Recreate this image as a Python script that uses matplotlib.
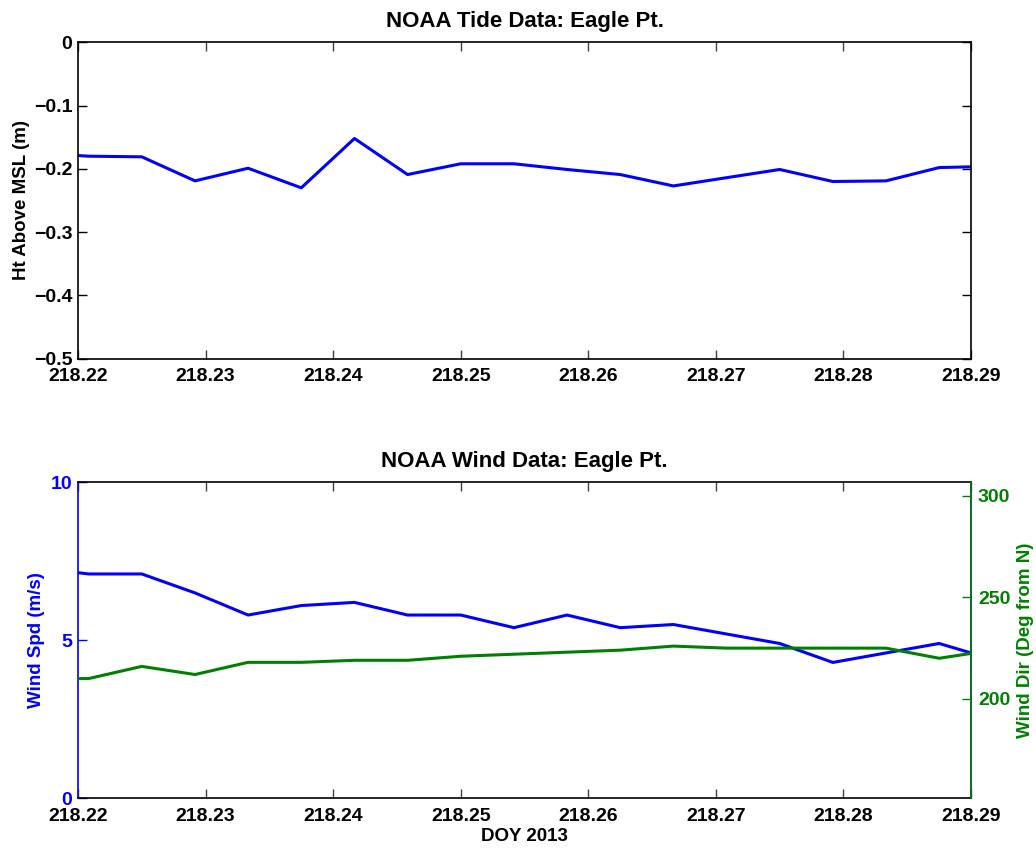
import matplotlib
matplotlib.use("Agg")
import matplotlib.pyplot as plt

plt.rcParams["font.family"] = ["Liberation Sans", "DejaVu Sans"]
plt.rcParams["font.weight"] = "bold"
plt.rcParams["axes.titleweight"] = "bold"
plt.rcParams["axes.labelweight"] = "bold"

# 6-minute NOAA samples, day-of-year 2013
doy = [218.21667, 218.22083, 218.22500, 218.22917, 218.23333, 218.23750,
       218.24167, 218.24583, 218.25000, 218.25417, 218.25833, 218.26250,
       218.26667, 218.27083, 218.27500, 218.27917, 218.28333, 218.28750,
       218.29167]
tide_ht = [-0.175, -0.180, -0.181, -0.219, -0.199, -0.230, -0.152, -0.209,
           -0.192, -0.192, -0.201, -0.209, -0.227, -0.214, -0.201, -0.220,
           -0.219, -0.198, -0.196]
wind_spd = [7.3, 7.1, 7.1, 6.5, 5.8, 6.1, 6.2, 5.8, 5.8, 5.4, 5.8, 5.4,
            5.5, 5.2, 4.9, 4.3, 4.6, 4.9, 4.4]
wind_dir = [210, 210, 216, 212, 218, 218, 219, 219, 221, 222, 223, 224,
            226, 225, 225, 225, 225, 220, 224]

xticks = [218.22, 218.23, 218.24, 218.25, 218.26, 218.27, 218.28, 218.29]
xlim = (218.22, 218.29)

BLUE = (0, 0, 1)
GREEN = (0, 0.5, 0)
FS = 14

fig = plt.figure(figsize=(10.36, 8.49), dpi=100)
ax_t = fig.add_axes([0.0753, 0.5775, 0.862, 0.3727])
ax_w = fig.add_axes([0.0753, 0.0597, 0.862, 0.3722])


def style_x(ax):
    ax.set_xlim(*xlim)
    ax.set_xticks(xticks)
    ax.set_xticklabels([f"{t:.2f}" for t in xticks])
    ax.tick_params(axis="x", direction="in", length=6.5, width=1,
                   top=True, bottom=True, labelsize=FS, pad=7,
                   color="#404040")


# tide panel
ax_t.plot(doy, tide_ht, color=BLUE, lw=2.2)
style_x(ax_t)
ax_t.set_ylim(-0.5, 0)
ax_t.set_yticks([-0.5, -0.4, -0.3, -0.2, -0.1, 0])
ax_t.set_yticklabels(["\u22120.5", "\u22120.4", "\u22120.3", "\u22120.2",
                      "\u22120.1", "0"])
ax_t.tick_params(axis="y", direction="in", length=6.5, width=1,
                 left=True, right=True, labelsize=FS, pad=4)
ax_t.set_ylabel("Ht Above MSL (m)", fontsize=13.5, labelpad=3)
ax_t.set_title("NOAA Tide Data: Eagle Pt.", fontsize=16, pad=11)
for sp in ax_t.spines.values():
    sp.set_linewidth(1.2)

# wind panel: speed on the left, direction on the right
ax_w.plot(doy, wind_spd, color=BLUE, lw=2.2)
style_x(ax_w)
ax_w.set_ylim(0, 10)
ax_w.set_yticks([0, 5, 10])
ax_w.tick_params(axis="y", direction="in", length=6.5, width=1,
                 left=True, right=True, labelsize=FS, pad=4,
                 colors=BLUE)
ax_w.set_ylabel("Wind Spd (m/s)", fontsize=13.5, color=BLUE, labelpad=4)
ax_w.set_xlabel("DOY 2013", fontsize=13.5, labelpad=2)
ax_w.set_title("NOAA Wind Data: Eagle Pt.", fontsize=16, pad=11)
ax_w.spines["left"].set_color(BLUE)
ax_w.spines["right"].set_color(BLUE)
for sp in ax_w.spines.values():
    sp.set_linewidth(1.2)

ax_d = ax_w.twinx()
ax_d.plot(doy, wind_dir, color=GREEN, lw=2.2)
ax_d.set_xlim(*xlim)
ax_d.set_ylim(151, 306.7)
ax_d.set_yticks([200, 250, 300])
ax_d.tick_params(axis="y", direction="in", length=6.5, width=1,
                 labelsize=FS, pad=5, colors=GREEN)
ax_d.set_ylabel("Wind Dir (Deg from N)", fontsize=13.5, color=GREEN,
                labelpad=5)
ax_d.spines["right"].set_color(GREEN)
ax_d.spines["right"].set_linewidth(1.2)
for side in ("left", "top", "bottom"):
    ax_d.spines[side].set_visible(False)

fig.savefig("out.png", dpi=100)
